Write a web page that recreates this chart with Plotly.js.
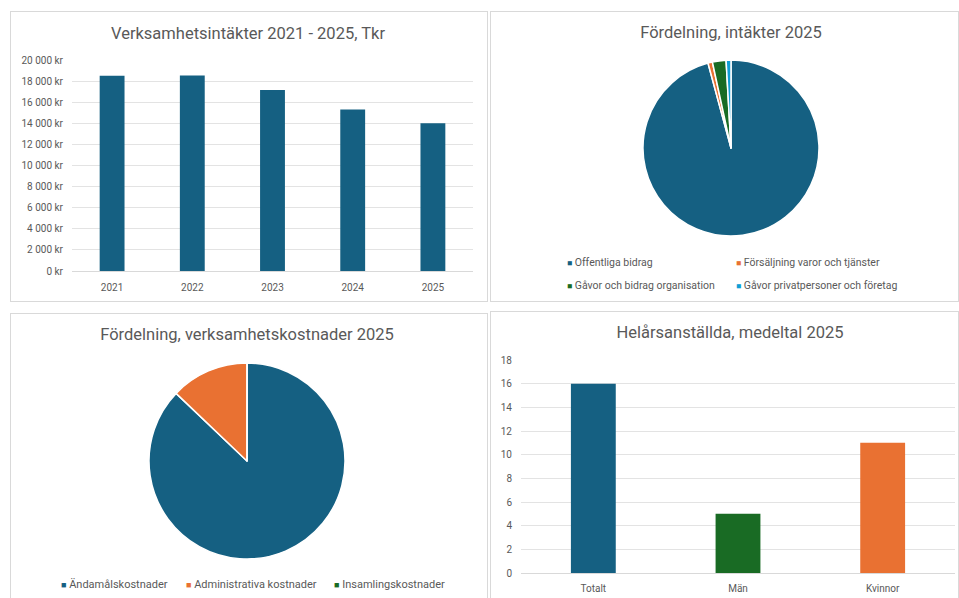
<!DOCTYPE html>
<html><head><meta charset="utf-8">
<script src="https://cdn.plot.ly/plotly-3.0.1.min.js"></script>
<style>
html,body{margin:0;padding:0;background:#fff;width:959px;height:598px;overflow:hidden;}
.panel{position:absolute;border:1px solid #d9d9d9;box-sizing:border-box;background:#fff;}
</style></head><body>
<div class="panel" id="p1" style="left:10px;top:11px;width:478px;height:291px"></div>
<div class="panel" id="p2" style="left:490px;top:11px;width:469px;height:291px"></div>
<div class="panel" id="p3" style="left:10px;top:313px;width:478px;height:300px"></div>
<div class="panel" id="p4" style="left:490px;top:311px;width:469px;height:300px"></div>
<script>
// ---- data ----
const years = ['2021', '2022', '2023', '2024', '2025'];
const revenueTkr = [18500, 18520, 17150, 15300, 14000];

const incomeLabels = ['Offentliga bidrag', 'Försäljning varor och tjänster', 'Gåvor och bidrag organisation', 'Gåvor privatpersoner och företag'];
const incomeValues = [13410, 115, 350, 125];

const costLabels = ['Ändamålskostnader', 'Administrativa kostnader', 'Insamlingskostnader'];
const costValues = [12180, 1800, 0];

const staffCategories = ['Totalt', 'Män', 'Kvinnor'];
const staffValues = [16, 5, 11];

// ---- styling ----
const C_BLUE = '#156082', C_ORANGE = '#E97132', C_GREEN = '#196B24', C_LBLUE = '#0F9ED5';
const incomeColors = [C_BLUE, C_ORANGE, C_GREEN, C_LBLUE];
const costColors = [C_BLUE, C_ORANGE, C_GREEN];
const staffColors = [C_BLUE, C_GREEN, C_ORANGE];
const FONT = 'Roboto, "Noto Sans", sans-serif';
const TXT = '#595959';
const GRID = '#e3e3e3';
const cfg = {staticPlot: true, displayModeBar: false};

function title(text, cx, cy, W, H) {
  return {text: text, font: {family: FONT, size: 16.5, color: TXT},
    xref: 'container', yref: 'container', x: cx / W, y: 1 - cy / H,
    xanchor: 'center', yanchor: 'middle'};
}
function legendAnn(labels, colors, pos, W, H, size) {
  return labels.map(function (lab, i) {
    return {text: '<span style="color:' + colors[i] + ';font-size:' + (size - 2) + 'px">■</span> ' + lab,
      xref: 'paper', yref: 'paper', x: pos[i][0] / W, y: 1 - pos[i][1] / H,
      xanchor: 'left', yanchor: 'middle', showarrow: false,
      font: {family: FONT, size: size, color: TXT}};
  });
}

// Panel 1: bar chart revenue
(function () {
  const W = 476, H = 289;
  Plotly.newPlot('p1', [{
    type: 'bar', x: years, y: revenueTkr, marker: {color: C_BLUE, line: {width: 0}},
    hoverinfo: 'none'
  }], {
    width: W, height: H, separators: ', ',
    margin: {l: 61, r: 14, t: 48, b: 30, pad: 0},
    paper_bgcolor: '#fff', plot_bgcolor: '#fff', showlegend: false,
    title: title('Verksamhetsintäkter 2021 - 2025, Tkr', 237, 21, W, H),
    bargap: 0.69,
    xaxis: {type: 'category', showgrid: false, zeroline: false, showline: false, ticks: '',
      ticklabelstandoff: 9, tickfont: {family: FONT, size: 10, color: TXT}},
    yaxis: {range: [0, 20000], dtick: 2000, tickformat: ',.0f', ticksuffix: ' kr',
      showgrid: true, gridcolor: GRID, gridwidth: 1, zeroline: true, zerolinecolor: '#d9d9d9',
      showline: false, ticks: '', ticklabelstandoff: 8, tickfont: {family: FONT, size: 10, color: TXT}}
  }, cfg);
})();

// Panel 2: pie income
(function () {
  const W = 467, H = 289;
  Plotly.newPlot('p2', [{
    type: 'pie', labels: incomeLabels, values: incomeValues, sort: false, direction: 'clockwise',
    rotation: 0, textinfo: 'none', hoverinfo: 'none',
    marker: {colors: incomeColors, line: {color: '#ffffff', width: 1.5}},
    domain: {x: [152 / W, 328 / W], y: [1 - 224 / H, 1 - 48 / H]}
  }], {
    width: W, height: H, margin: {l: 0, r: 0, t: 0, b: 0}, showlegend: false,
    paper_bgcolor: '#fff',
    title: title('Fördelning, intäkter 2025', 240, 20, W, H),
    annotations: legendAnn(incomeLabels, incomeColors, [[74, 250], [243, 250], [74, 273], [243, 273]], W, H, 10.5)
  }, cfg);
})();

// Panel 3: pie costs
(function () {
  const W = 476, H = 298;
  Plotly.newPlot('p3', [{
    type: 'pie', labels: costLabels, values: costValues, sort: false, direction: 'clockwise',
    rotation: 0, textinfo: 'none', hoverinfo: 'none',
    marker: {colors: costColors, line: {color: '#ffffff', width: 1.5}},
    domain: {x: [138 / W, 334 / W], y: [1 - 245 / H, 1 - 49 / H]}
  }], {
    width: W, height: H, margin: {l: 0, r: 0, t: 0, b: 0}, showlegend: false,
    paper_bgcolor: '#fff',
    title: title('Fördelning, verksamhetskostnader 2025', 236, 20, W, H),
    annotations: legendAnn(costLabels, costColors, [[48, 270], [173, 270], [321, 270]], W, H, 11)
  }, cfg);
})();

// Panel 4: staff bars
(function () {
  const W = 467, H = 298;
  Plotly.newPlot('p4', [{
    type: 'bar', x: staffCategories, y: staffValues, marker: {color: staffColors, line: {width: 0}},
    hoverinfo: 'none'
  }], {
    width: W, height: H,
    margin: {l: 30, r: 3, t: 48, b: 37, pad: 0},
    paper_bgcolor: '#fff', plot_bgcolor: '#fff', showlegend: false,
    title: title('Helårsanställda, medeltal 2025', 239, 20, W, H),
    bargap: 0.69,
    xaxis: {type: 'category', showgrid: false, zeroline: false, showline: false, ticks: '',
      ticklabelstandoff: 8, tickfont: {family: FONT, size: 10, color: TXT}},
    yaxis: {range: [0, 18], dtick: 2, showgrid: true, gridcolor: GRID, gridwidth: 1,
      zeroline: true, zerolinecolor: '#d9d9d9', showline: false, ticks: '', ticklabelstandoff: 8,
      tickfont: {family: FONT, size: 10, color: TXT}}
  }, cfg);
})();
</script>
</body></html>
